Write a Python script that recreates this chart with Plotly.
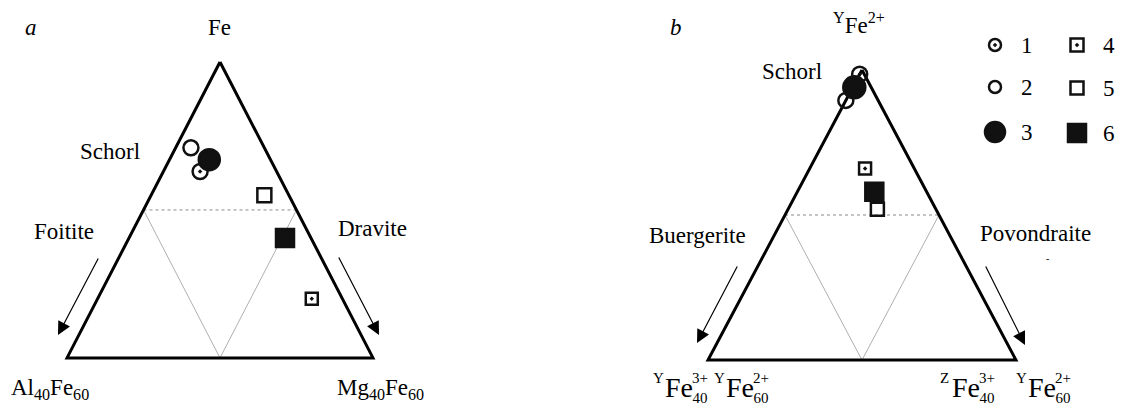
import plotly.graph_objects as go

W, H = 1129, 410
FONT = "Liberation Serif"

# --- samples 1..6, ternary fractions (top apex, right apex) ---
samples = ["1", "2", "3", "4", "5", "6"]

# panel a: Fe (top) - Mg40Fe60 (right) - Al40Fe60 (left)
a_top = [0.63, 0.71, 0.67, 0.20, 0.55, 0.405]
a_right = [0.12, 0.05, 0.13, 0.70, 0.37, 0.51]

# panel b: YFe2+ (top) - ZFe3+40 YFe2+60 (right) - YFe3+40 YFe2+60 (left)
b_top = [0.985, 0.895, 0.94, 0.66, 0.52, 0.58]
b_right = [0.0, 0.0, 0.005, 0.18, 0.29, 0.25]

symbols = ["circle-open-dot", "circle-open", "circle",
           "square-open-dot", "square-open", "square"]
size_a = [15, 15, 21, 12, 14, 18]
size_b = [15, 15, 22, 12, 13, 18]
size_leg = [12, 12, 20, 13, 13, 18]


def tern_xy(top, right):
    # triangle with left apex at (0,0), right at (1,0), top at (0.5,1)
    xs = [r + t / 2 for t, r in zip(top, right)]
    return xs, list(top)


fig = go.Figure()

# ============================================================
# Triangles (outline + medial triangle) for both panels
# ============================================================
for xa, ya in [("x", "y"), ("x2", "y2")]:
    x, y = tern_xy([0.5, 0.5], [0, 0.5])
    fig.add_trace(go.Scatter(x=x, y=y, xaxis=xa, yaxis=ya, mode="lines",
                             line=dict(color="#8a8a8a", width=1, dash="dot"), hoverinfo="skip"))
    x, y = tern_xy([0.5, 0, 0.5], [0, 0.5, 0.5])
    fig.add_trace(go.Scatter(x=x, y=y, xaxis=xa, yaxis=ya, mode="lines",
                             line=dict(color="#9a9a9a", width=0.8), hoverinfo="skip"))
    x, y = tern_xy([1, 0, 0, 1], [0, 1, 0, 0])
    fig.add_trace(go.Scatter(x=x, y=y, xaxis=xa, yaxis=ya, mode="lines",
                             line=dict(color="black", width=3), hoverinfo="skip"))

# ============================================================
# Sample points
# ============================================================
for top, right, sizes, xa, ya in [(a_top, a_right, size_a, "x", "y"),
                                  (b_top, b_right, size_b, "x2", "y2")]:
    for i, s in enumerate(samples):
        x, y = tern_xy([top[i]], [right[i]])
        fig.add_trace(go.Scatter(
            x=x, y=y, xaxis=xa, yaxis=ya, mode="markers", name=s,
            marker=dict(symbol=symbols[i], size=sizes[i], color="#111",
                        line=dict(color="#111", width=2.5))))

# ============================================================
# Hand-made legend (pixel overlay axes)
# ============================================================
leg_x = [995, 995, 995, 1077, 1077, 1077]
leg_y = [45, 87, 132, 45, 88, 133]
for i, s in enumerate(samples):
    fig.add_trace(go.Scatter(
        x=[leg_x[i]], y=[leg_y[i]], xaxis="x3", yaxis="y3", mode="markers",
        marker=dict(symbol=symbols[i], size=size_leg[i], color="#111",
                    line=dict(color="#111", width=2.5)), hoverinfo="skip"))

annotations = []


def label(txt, x, y, size=23, xanchor="center"):
    annotations.append(dict(text=txt, x=x, y=y, xref="x3", yref="y3",
                            showarrow=False, xanchor=xanchor, yanchor="middle",
                            font=dict(family=FONT, size=size, color="black")))


def arrow(x0, y0, x1, y1):
    annotations.append(dict(text="", x=x1, y=y1, ax=x0, ay=y0, xref="x3", yref="y3",
                            axref="x3", ayref="y3", showarrow=True, arrowhead=2,
                            arrowsize=2.2, arrowwidth=1.2, arrowcolor="black"))


def ion(x, y, pre, sup, sub):
    # pre-superscript, Fe, then stacked charge / index
    label(pre, x, y - 9, size=15, xanchor="left")
    label("Fe", x + 12, y, size=28, xanchor="left")
    label(sup + "<br>" + sub, x + 39, y + 1, size=15, xanchor="left")


# panel a
label("<i>a</i>", 31, 27)
label("Fe", 219, 27)
label("Schorl", 110, 151)
label("Foitite", 64, 231)
label("Dravite", 372, 228)
label("Al<sub>40</sub>Fe<sub>60</sub>", 50, 389)
label("Mg<sub>40</sub>Fe<sub>60</sub>", 380, 389)
arrow(99, 257, 58, 335)
arrow(338, 256, 379, 335)

# panel b
label("<i>b</i>", 676, 27)
label("<sup>Y</sup>Fe<sup>2+</sup>", 859, 23)
label("Schorl", 792, 71)
label("Buergerite", 697, 235)
label("Povondraite", 1035, 233)
label("-", 1047, 258, size=10)
arrow(738, 265, 697, 343)
arrow(985, 265, 1025, 345)
ion(651, 387, "Y", "3+", "40")
ion(712, 387, "Y", "2+", "60")
ion(938, 387, "Z", "3+", "40")
ion(1014, 387, "Y", "2+", "60")

# legend labels
for i, s in enumerate(samples):
    label(s, leg_x[i] + 32, leg_y[i])

hidden = dict(visible=False, showgrid=False, zeroline=False, fixedrange=True)

fig.update_layout(
    width=W, height=H,
    margin=dict(l=0, r=0, t=0, b=0),
    paper_bgcolor="white", plot_bgcolor="rgba(0,0,0,0)",
    showlegend=False,
    annotations=annotations,
    xaxis=dict(domain=[0, 0.5], range=[-0.219, 1.626], anchor="y", **hidden),
    yaxis=dict(domain=[0, 1], range=[-0.176, 1.2095], anchor="x", **hidden),
    xaxis2=dict(domain=[0.5, 1], range=[-0.466, 1.367], anchor="y2", **hidden),
    yaxis2=dict(domain=[0, 1], range=[-0.172, 1.241], anchor="x2", **hidden),
    xaxis3=dict(domain=[0, 1], range=[0, W], anchor="y3", **hidden),
    yaxis3=dict(domain=[0, 1], range=[H, 0], anchor="x3", **hidden),
)

fig.write_html("out.html", config={"displayModeBar": False},
               post_script="document.body.style.margin='0';")
